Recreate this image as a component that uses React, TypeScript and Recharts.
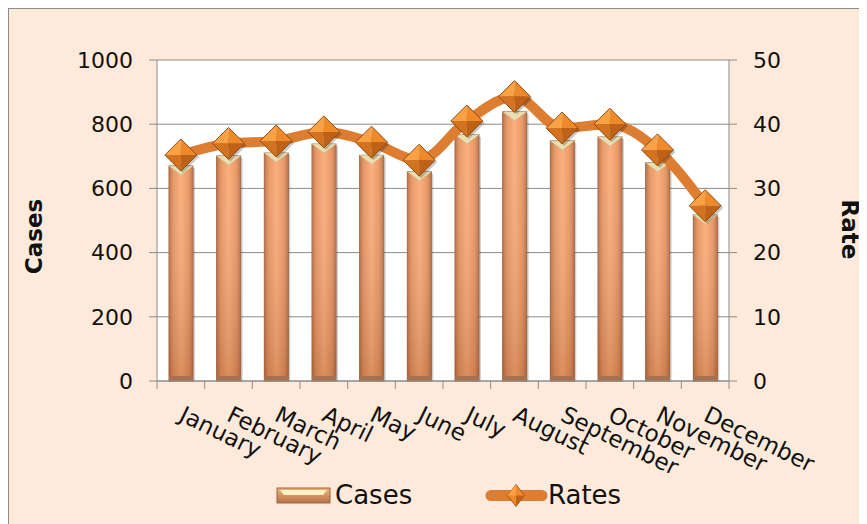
import React from 'react';
import { ComposedChart, Bar, Line, XAxis, YAxis, CartesianGrid, Legend, Label } from 'recharts';

// Monthly values
const months = [
  'January', 'February', 'March', 'April', 'May', 'June',
  'July', 'August', 'September', 'October', 'November', 'December',
];
const cases = [670, 701, 710, 738, 703, 652, 767, 839, 748, 760, 680, 517];
const rates = [35.2, 37.0, 37.4, 38.8, 37.2, 34.4, 40.5, 44.3, 39.4, 40.0, 36.0, 27.3];
const casesTicks = [0, 200, 400, 600, 800, 1000];
const rateTicks = [0, 10, 20, 30, 40, 50];

const data = months.map((month, i) => ({ month, Cases: cases[i], Rates: rates[i] }));

const FONT = '"DejaVu Sans", Verdana, sans-serif';
const GRID = '#8c8c8c';
const LINE = '#dd7d32';
const BG = '#fdeadb';

// half of one category band (plot width 572 / 12 months)
const HALF_BAND = 572 / 12 / 2;

const MonthTick = (props: any) => {
  const { x, y, payload } = props;
  const isLast = payload.value === months[months.length - 1];
  return (
    <g>
      <line x1={x - HALF_BAND} y1={y - 8} x2={x - HALF_BAND} y2={y} stroke={GRID} />
      {isLast && <line x1={x + HALF_BAND} y1={y - 8} x2={x + HALF_BAND} y2={y} stroke={GRID} />}
      <text
        transform={`translate(${x - 3},${y + 31}) rotate(26)`}
        fontSize={23}
        fontFamily={FONT}
        fill="#111"
      >
        {payload.value}
      </text>
    </g>
  );
};

// bar with a soft cylinder look and a cream top bevel
const CaseBar = (props: any) => {
  const { x, y, width, height } = props;
  if (!height || height <= 0) return null;
  return (
    <g>
      <rect x={x + 2} y={y + 2} width={width} height={height - 2} fill="rgba(0,0,0,0.18)" />
      <rect x={x} y={y} width={width} height={height} fill="url(#barH)" stroke="#a0643f" strokeWidth={1} />
      <rect x={x} y={y} width={width} height={height} fill="url(#barV)" />
      <rect x={x} y={y + height - 5} width={width} height={5} fill="#a8704c" />
      <polygon
        points={`${x},${y} ${x + width},${y} ${x + width / 2},${y + 9}`}
        fill="#e8dfb3"
        stroke="#c9b98a"
        strokeWidth={0.5}
      />
    </g>
  );
};

const Diamond = (props: any) => {
  const { cx, cy } = props;
  if (cx == null || cy == null) return null;
  const r = 16;
  return (
    <g>
      <polygon
        points={`${cx + 2},${cy - r + 2} ${cx + r + 2},${cy + 2} ${cx + 2},${cy + r + 2} ${cx - r + 2},${cy + 2}`}
        fill="rgba(0,0,0,0.22)"
      />
      <polygon points={`${cx},${cy - r} ${cx},${cy} ${cx - r},${cy}`} fill="#f9a245" />
      <polygon points={`${cx},${cy - r} ${cx + r},${cy} ${cx},${cy}`} fill="#ef8a2b" />
      <polygon points={`${cx - r},${cy} ${cx},${cy} ${cx},${cy + r}`} fill="#d4731f" />
      <polygon points={`${cx},${cy} ${cx + r},${cy} ${cx},${cy + r}`} fill="#bf6218" />
      <polygon
        points={`${cx},${cy - r} ${cx + r},${cy} ${cx},${cy + r} ${cx - r},${cy}`}
        fill="none"
        stroke="#8f4c14"
        strokeWidth={1}
      />
    </g>
  );
};

const LegendContent = () => (
  <svg width={858} height={44} style={{ display: 'block' }}>
    <defs>
      <linearGradient id="legBar" x1="0" y1="0" x2="0" y2="1">
        <stop offset="0" stopColor="#f2b27e" />
        <stop offset="1" stopColor="#b8724a" />
      </linearGradient>
    </defs>
    <rect x={268} y={8} width={53} height={15} fill="url(#legBar)" stroke="#a0643f" />
    <polygon points="271,10 318,10 314,15 275,15" fill="#fff1c4" />
    <text x={326} y={24} fontSize={26} fontFamily={FONT} fill="#111">Cases</text>
    <line x1={482} y1={15.5} x2={533} y2={15.5} stroke={LINE} strokeWidth={11} strokeLinecap="round" />
    <polygon points="507,4.5 515.5,15.5 507,26.5 498.5,15.5" fill="#ef8a2b" stroke="#8f4c14" strokeWidth={0.8} />
    <polygon points="507,4.5 507,15.5 498.5,15.5" fill="#f9a245" />
    <polygon points="507,15.5 515.5,15.5 507,26.5" fill="#bf6218" />
    <text x={539} y={24} fontSize={26} fontFamily={FONT} fill="#111">Rates</text>
  </svg>
);

const App: React.FC = () => {
  return (
    <div
      style={{
        width: 858,
        height: 515,
        background: BG,
        borderLeft: `1px solid ${GRID}`,
        borderTop: `1px solid ${GRID}`,
        overflow: 'hidden',
      }}
    >
      <ComposedChart
        width={858}
        height={515}
        data={data}
        margin={{ top: 51, right: 0, bottom: 0, left: 0 }}
        barSize={24}
      >
        <defs>
          <linearGradient id="barH" x1="0" y1="0" x2="1" y2="0">
            <stop offset="0" stopColor="#b86e45" />
            <stop offset="0.18" stopColor="#e7935f" />
            <stop offset="0.5" stopColor="#fbab78" />
            <stop offset="0.82" stopColor="#e7935f" />
            <stop offset="1" stopColor="#b86e45" />
          </linearGradient>
          <linearGradient id="barV" x1="0" y1="0" x2="0" y2="1">
            <stop offset="0" stopColor="#ffffff" stopOpacity={0.05} />
            <stop offset="1" stopColor="#8a4a25" stopOpacity={0.3} />
          </linearGradient>
        </defs>
        <CartesianGrid yAxisId="left" vertical={false} stroke={GRID} fill="#ffffff" />
        <XAxis
          dataKey="month"
          interval={0}
          height={99}
          tickLine={false}
          tickSize={8}
          tickMargin={0}
          axisLine={{ stroke: GRID }}
          tick={<MonthTick />}
        />
        <YAxis
          yAxisId="left"
          orientation="left"
          width={148}
          domain={[0, 1000]}
          ticks={casesTicks}
          interval={0}
          tickSize={8}
          tickMargin={16}
          axisLine={{ stroke: GRID }}
          tickLine={{ stroke: GRID }}
          tick={{ fontSize: 22, fontFamily: FONT, fill: '#111' }}
        >
          <Label
            content={({ viewBox }: any) => {
              const cx = viewBox.x + 24.5;
              const cy = viewBox.y + viewBox.height / 2 + 16;
              return (
                <text
                  x={cx}
                  y={cy}
                  transform={`rotate(-90 ${cx} ${cy})`}
                  textAnchor="middle"
                  dominantBaseline="central"
                  fontSize={23}
                  fontWeight="bold"
                  fontFamily={FONT}
                  fill="#111"
                >
                  Cases
                </text>
              );
            }}
          />
        </YAxis>
        <YAxis
          yAxisId="right"
          orientation="right"
          width={138}
          domain={[0, 50]}
          ticks={rateTicks}
          interval={0}
          tickSize={8}
          tickMargin={16}
          axisLine={{ stroke: GRID }}
          tickLine={{ stroke: GRID }}
          tick={{ fontSize: 22, fontFamily: FONT, fill: '#111' }}
        >
          <Label
            content={({ viewBox }: any) => {
              const cx = viewBox.x + 121;
              const cy = viewBox.y + viewBox.height / 2 + 9;
              return (
                <text
                  x={cx}
                  y={cy}
                  transform={`rotate(90 ${cx} ${cy})`}
                  textAnchor="middle"
                  dominantBaseline="central"
                  fontSize={23}
                  fontWeight="bold"
                  fontFamily={FONT}
                  fill="#111"
                >
                  Rate
                </text>
              );
            }}
          />
        </YAxis>
        <Legend verticalAlign="bottom" height={44} content={<LegendContent />} />
        <Bar yAxisId="left" dataKey="Cases" shape={<CaseBar />} isAnimationActive={false} />
        <Line
          yAxisId="right"
          dataKey="Rates"
          type="monotone"
          stroke={LINE}
          strokeWidth={10}
          strokeLinejoin="round"
          dot={<Diamond />}
          activeDot={false}
          isAnimationActive={false}
        />
      </ComposedChart>
    </div>
  );
};

export default App;
